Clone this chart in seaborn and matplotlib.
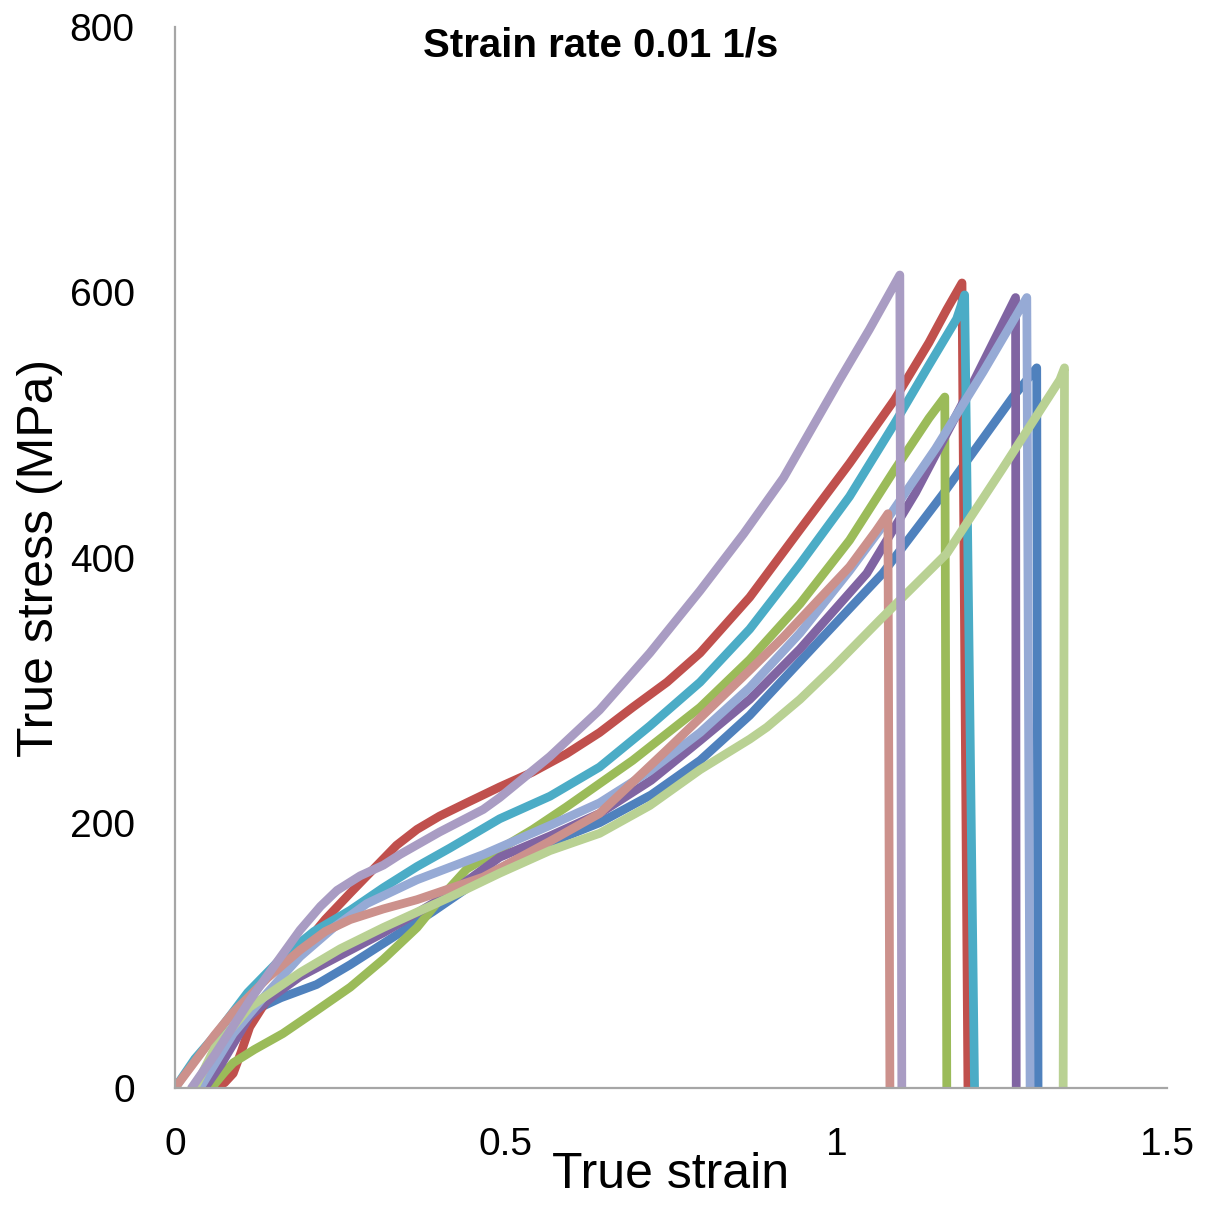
import numpy as np
import pandas as pd
import matplotlib
matplotlib.use("Agg")
import matplotlib.pyplot as plt
import seaborn as sns

# ---- data ----
s1_strain = [0.04, 0.07, 0.113, 0.16, 0.214, 0.265, 0.315, 0.39, 0.466, 0.567, 0.642, 0.72, 0.794, 0.869, 0.97, 1.07, 1.16, 1.267, 1.303, 1.305]
s1_stress = [0, 28, 57, 68, 78, 93, 109, 133, 159, 185, 200, 221, 247, 281, 335, 388, 447, 521, 543, 0]

s2_strain = [0.05, 0.063, 0.075, 0.088, 0.1, 0.113, 0.15, 0.189, 0.227, 0.265, 0.3, 0.335, 0.366, 0.4, 0.441, 0.491, 0.54, 0.592, 0.642, 0.692, 0.744, 0.794, 0.869, 0.945, 1.02, 1.088, 1.14, 1.167, 1.19, 1.199]
s2_stress = [0, 1, 4, 11, 27, 46, 75, 104, 127, 147, 165, 183, 195, 205, 215, 227, 238, 252, 268, 287, 306, 328, 370, 421, 471, 519, 562, 587, 607, 0]

s3_strain = [0.055, 0.075, 0.088, 0.12, 0.163, 0.21, 0.265, 0.315, 0.366, 0.41, 0.441, 0.491, 0.541, 0.592, 0.692, 0.794, 0.869, 0.945, 1.02, 1.088, 1.14, 1.164, 1.167]
s3_stress = [0, 12, 19, 29, 41, 57, 76, 97, 121, 148, 165, 180, 195, 212, 247, 287, 323, 365, 413, 466, 505, 521, 0]

s4_strain = [0.045, 0.07, 0.113, 0.15, 0.189, 0.25, 0.315, 0.366, 0.416, 0.491, 0.567, 0.642, 0.72, 0.794, 0.869, 0.945, 1.046, 1.12, 1.2, 1.271, 1.272]
s4_stress = [0, 18, 54, 70, 84, 100, 117, 132, 147, 174, 190, 207, 232, 262, 293, 331, 388, 449, 525, 596, 0]

s5_strain = [0.0, 0.03, 0.063, 0.11, 0.163, 0.21, 0.265, 0.315, 0.366, 0.416, 0.491, 0.567, 0.642, 0.718, 0.794, 0.869, 0.945, 1.02, 1.088, 1.14, 1.182, 1.194, 1.209]
s5_stress = [0, 22, 41, 72, 99, 118, 134, 151, 167, 181, 203, 220, 242, 273, 306, 346, 395, 446, 501, 545, 580, 598, 0]

s6_strain = [0.038, 0.06, 0.088, 0.14, 0.189, 0.24, 0.29, 0.366, 0.466, 0.567, 0.642, 0.718, 0.794, 0.869, 0.945, 1.02, 1.066, 1.15, 1.222, 1.288, 1.293]
s6_stress = [0, 18, 41, 72, 99, 121, 139, 157, 176, 198, 215, 239, 268, 302, 343, 390, 421, 482, 540, 596, 0]

s7_strain = [0.0, 0.03, 0.06, 0.088, 0.14, 0.189, 0.227, 0.265, 0.315, 0.366, 0.466, 0.567, 0.642, 0.744, 0.869, 0.92, 1.02, 1.06, 1.078, 1.081]
s7_stress = [0, 20, 40, 57, 83, 104, 118, 127, 135, 142, 159, 186, 207, 255, 315, 340, 393, 420, 433, 0]

s8_strain = [0.03, 0.06, 0.113, 0.189, 0.25, 0.315, 0.416, 0.491, 0.567, 0.642, 0.718, 0.794, 0.869, 0.895, 0.945, 0.995, 1.066, 1.167, 1.25, 1.338, 1.345, 1.343]
s8_stress = [0, 30, 61, 87, 105, 121, 144, 162, 179, 192, 213, 240, 263, 272, 293, 317, 353, 403, 466, 534, 543, 0]

s9_strain = [0.025, 0.06, 0.113, 0.15, 0.189, 0.22, 0.245, 0.28, 0.315, 0.34, 0.4, 0.466, 0.491, 0.567, 0.642, 0.718, 0.794, 0.86, 0.92, 1.005, 1.05, 1.096, 1.099]
s9_stress = [0, 25, 66, 92, 119, 137, 149, 160, 168, 176, 193, 210, 219, 250, 285, 328, 375, 418, 460, 534, 572, 613, 0]

series_names = ["S1", "S2", "S3", "S4", "S5", "S6", "S7", "S8", "S9"]
series_colors = ["#4F81BD", "#C0504D", "#9BBB59", "#8064A2", "#4BACC6",
                 "#96AAD5", "#CC918C", "#B9D193", "#A99CC3"]

x_ticks = [0, 0.5, 1, 1.5]
x_tick_labels = ["0", "0.5", "1", "1.5"]
y_ticks = [0, 200, 400, 600, 800]
y_tick_labels = ["0", "200", "400", "600", "800"]

title_text = "Strain rate 0.01 1/s"
x_label = "True strain"
y_label = "True stress (MPa)"

# ---- build long table ----
all_strain = [s1_strain, s2_strain, s3_strain, s4_strain, s5_strain, s6_strain, s7_strain, s8_strain, s9_strain]
all_stress = [s1_stress, s2_stress, s3_stress, s4_stress, s5_stress, s6_stress, s7_stress, s8_stress, s9_stress]
frames = []
for name, xs, ys in zip(series_names, all_strain, all_stress):
    frames.append(pd.DataFrame({"strain": xs, "stress": ys, "specimen": name}))
df = pd.concat(frames, ignore_index=True)

# ---- style ----
sns.set_style("white")
plt.rcParams["font.family"] = ["Liberation Sans", "DejaVu Sans"]

fig = plt.figure(figsize=(12.07, 12.14), dpi=100)
ax = fig.add_axes([175 / 1207, 126 / 1214, 992 / 1207, 1061 / 1214])

sns.lineplot(data=df, x="strain", y="stress", hue="specimen",
             palette=dict(zip(series_names, series_colors)),
             sort=False, estimator=None, linewidth=6.3, legend=False, ax=ax)
for ln in ax.lines:
    ln.set_solid_joinstyle("round")
    ln.set_solid_capstyle("round")

ax.set_xlim(0, 1.5)
ax.set_ylim(0, 800)
ax.set_xticks(x_ticks)
ax.set_xticklabels(x_tick_labels)
ax.set_yticks(y_ticks)
ax.set_yticklabels(y_tick_labels)

spine_col = "#A6A6A6"
for side in ["top", "right"]:
    ax.spines[side].set_visible(False)
for side in ["left", "bottom"]:
    ax.spines[side].set_color(spine_col)
    ax.spines[side].set_linewidth(1.6)

ax.tick_params(axis="both", direction="out", length=10, width=1.4,
               color=spine_col, labelsize=28, labelcolor="black", pad=19)
ax.tick_params(axis="x", pad=18)

ax.set_xlabel(x_label, fontsize=36, color="black")
ax.set_ylabel(y_label, fontsize=36, color="black")
ax.xaxis.set_label_coords(0.5, -0.060)
ax.yaxis.set_label_coords(-0.113, 0.5)

ax.text(0.429, 0.983, title_text, transform=ax.transAxes, ha="center", va="center",
        fontsize=29, fontweight="bold", color="black")

fig.savefig("out.png", dpi=100, facecolor="white")
